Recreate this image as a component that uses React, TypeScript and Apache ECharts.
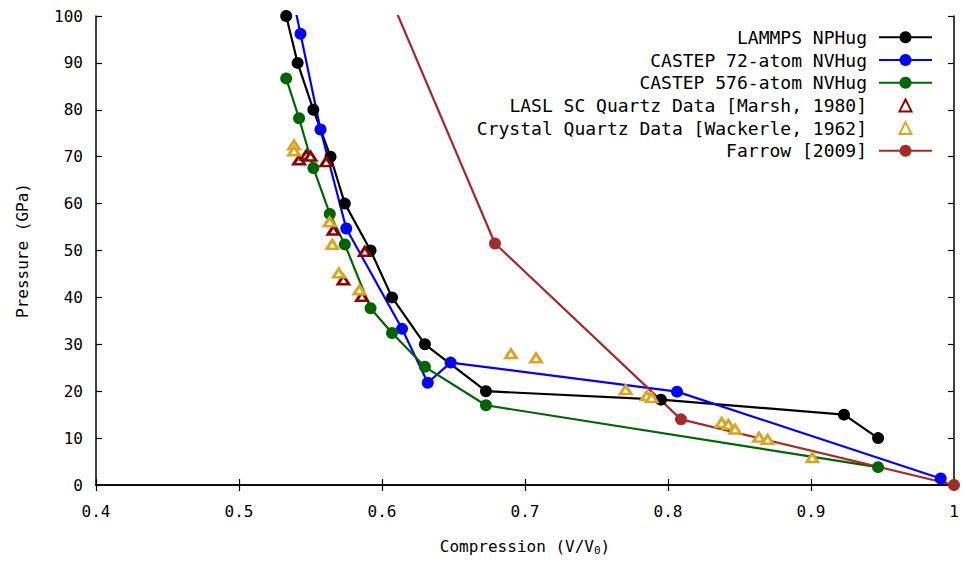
import React, { useEffect, useRef } from "react";
import * as echarts from "echarts";

const lammpsX = [0.533, 0.541, 0.552, 0.564, 0.574, 0.592, 0.607, 0.63, 0.6727, 0.7951, 0.9231, 0.9469];
const lammpsY = [100, 90, 80, 70, 60, 50, 40, 30, 20, 18.2, 15, 10];

const castep72X = [0.53, 0.543, 0.557, 0.575, 0.614, 0.632, 0.648, 0.8063, 0.9907];
const castep72Y = [115, 96.2, 75.8, 54.7, 33.3, 21.8, 26.1, 19.9, 1.4];

const castep576X = [0.533, 0.542, 0.552, 0.5635, 0.574, 0.592, 0.607, 0.63, 0.6727, 0.9469];
const castep576Y = [86.7, 78.2, 67.6, 57.8, 51.3, 37.7, 32.4, 25.2, 17, 3.8];

const marshX = [0.542, 0.547, 0.55, 0.561, 0.566, 0.588, 0.573, 0.586];
const marshY = [69.3, 70.3, 70.1, 68.9, 54.3, 49.8, 43.7, 40.2];

const wackerleX = [0.5385, 0.5385, 0.5633, 0.5652, 0.5698, 0.5842, 0.6902, 0.7077, 0.7704, 0.7851, 0.7886, 0.8375, 0.8422, 0.8469, 0.8636, 0.8697, 0.9009];
const wackerleY = [72.5, 71.2, 56.1, 51.3, 45.2, 41.6, 28, 27.1, 20.3, 19.0, 18.6, 13.3, 12.9, 11.9, 10.2, 9.7, 5.8];

const farrowX = [0.5834, 0.679, 0.8091, 1.0];
const farrowY = [120, 51.5, 14, 0];

const seriesNames = [
  "LAMMPS NPHug",
  "CASTEP 72-atom NVHug",
  "CASTEP 576-atom NVHug",
  "LASL SC Quartz Data [Marsh, 1980]",
  "Crystal Quartz Data [Wackerle, 1962]",
  "Farrow [2009]",
];

const FONT = "DejaVu Sans Mono";

const zip = (xs: number[], ys: number[]) => xs.map((x, i) => [x, ys[i]]);

function lineSeries(name: string, xs: number[], ys: number[], color: string) {
  return {
    name,
    type: "line",
    data: zip(xs, ys),
    symbol: "circle",
    symbolSize: 12,
    showAllSymbol: true,
    lineStyle: { color, width: 2.2 },
    itemStyle: { color },
    clip: true,
  };
}

function triSeries(name: string, xs: number[], ys: number[], color: string) {
  return {
    name,
    type: "line",
    data: zip(xs, ys),
    symbol: "triangle",
    symbolSize: [11, 8.5],
    showAllSymbol: true,
    lineStyle: { width: 0, opacity: 0, color },
    itemStyle: { color: "#ffffff", borderColor: color, borderWidth: 2.8 },
    clip: true,
  };
}

export default function App() {
  const ref = useRef<HTMLDivElement>(null);
  useEffect(() => {
    if (!ref.current) return;
    const chart = echarts.init(ref.current, null, { renderer: "svg" });
    const axisLine = { show: true, lineStyle: { color: "#000", width: 1.5 } };
    const tick = { show: true, inside: true, length: 6, lineStyle: { color: "#000", width: 1.2 } };
    chart.setOption({
      animation: false,
      backgroundColor: "#fff",
      textStyle: { fontFamily: FONT },
      grid: { left: 96, right: 10, top: 16, bottom: 72 },
      legend: {
        orient: "vertical",
        align: "right",
        right: 31,
        top: 28.3,
        padding: 0,
        itemWidth: 53,
        itemHeight: 15,
        itemGap: 4.7,
        data: seriesNames.map((n, i) =>
          i === 3 || i === 4 ? { name: n, lineStyle: { opacity: 0, width: 0 } } : { name: n }
        ),
        textStyle: { fontFamily: FONT, fontSize: 18, color: "#000", padding: [0, 7, 0, 0] },
      },
      xAxis: [
        {
          type: "value",
          min: 0.4,
          max: 1,
          interval: 0.1,
          position: "bottom",
          name: "Compression (V/V{s|0})",
          nameLocation: "middle",
          nameGap: 51,
          nameTextStyle: {
            fontFamily: FONT,
            fontSize: 16,
            color: "#000",
            rich: { s: { fontFamily: FONT, fontSize: 11, color: "#000", padding: [9, 0, 0, 0] } },
          },
          axisLine,
          axisTick: tick,
          splitLine: { show: false },
          axisLabel: {
            fontFamily: FONT,
            fontSize: 16,
            color: "#000",
            margin: 18,
            formatter: (v: number) => String(Number(v.toFixed(1))),
          },
        },
        {
          type: "value",
          min: 0.4,
          max: 1,
          interval: 0.1,
          position: "top",
          axisLine,
          axisTick: tick,
          splitLine: { show: false },
          axisLabel: { show: false },
        },
      ],
      yAxis: [
        {
          type: "value",
          min: 0,
          max: 100,
          interval: 10,
          position: "left",
          name: "Pressure (GPa)",
          nameLocation: "middle",
          nameGap: 66,
          nameTextStyle: { fontFamily: FONT, fontSize: 16, color: "#000" },
          axisLine,
          axisTick: tick,
          splitLine: { show: false },
          axisLabel: { fontFamily: FONT, fontSize: 16, color: "#000", margin: 13 },
        },
        {
          type: "value",
          min: 0,
          max: 100,
          interval: 10,
          position: "right",
          axisLine,
          axisTick: tick,
          splitLine: { show: false },
          axisLabel: { show: false },
        },
      ],
      series: [
        lineSeries(seriesNames[0], lammpsX, lammpsY, "#000000"),
        lineSeries(seriesNames[1], castep72X, castep72Y, "#0000ff"),
        lineSeries(seriesNames[2], castep576X, castep576Y, "#006400"),
        triSeries(seriesNames[3], marshX, marshY, "#8b0000"),
        triSeries(seriesNames[4], wackerleX, wackerleY, "#daa520"),
        lineSeries(seriesNames[5], farrowX, farrowY, "#a52a2a"),
      ],
    });
    return () => chart.dispose();
  }, []);
  return (
    <div
      ref={ref}
      style={{ position: "fixed", left: 0, top: 0, width: 964, height: 561 }}
    />
  );
}
